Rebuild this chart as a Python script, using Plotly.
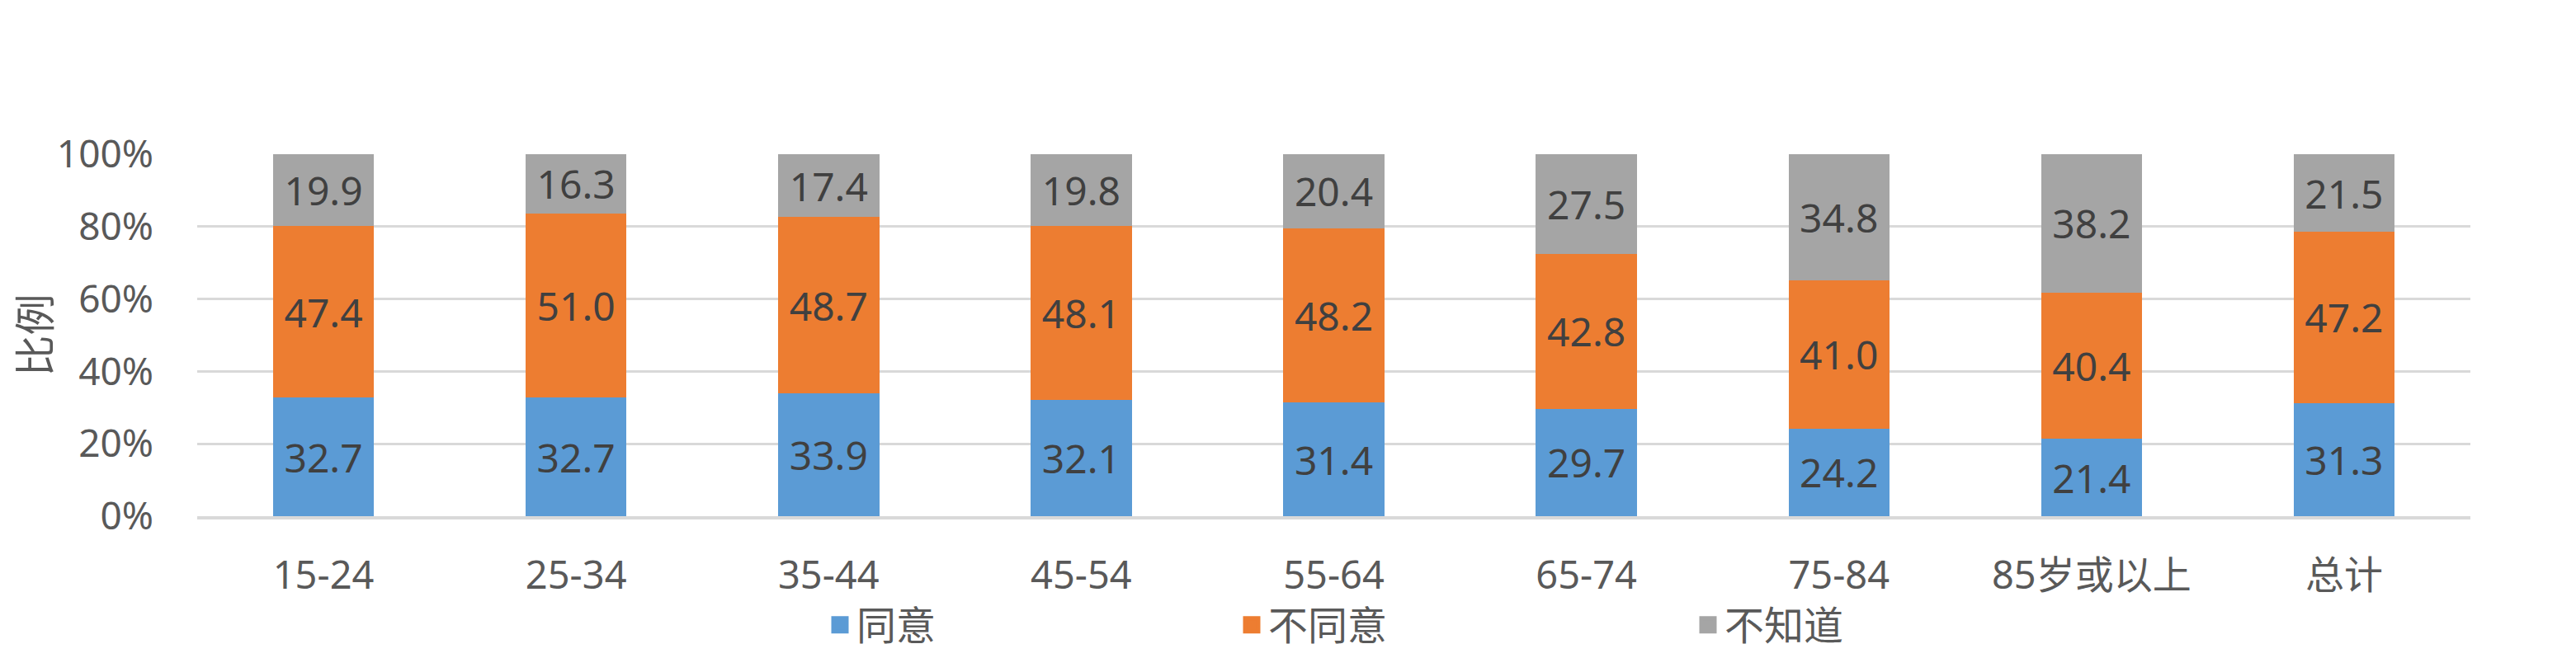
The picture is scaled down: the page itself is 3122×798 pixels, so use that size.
import plotly.graph_objects as go

# age groups plus the overall total
categories = ["15-24", "25-34", "35-44", "45-54", "55-64", "65-74", "75-84", "85岁或以上", "总计"]
agree = [32.7, 32.7, 33.9, 32.1, 31.4, 29.7, 24.2, 21.4, 31.3]
disagree = [47.4, 51.0, 48.7, 48.1, 48.2, 42.8, 41.0, 40.4, 47.2]
dont_know = [19.9, 16.3, 17.4, 19.8, 20.4, 27.5, 34.8, 38.2, 21.5]
series_names = ["同意", "不同意", "不知道"]
y_ticks = [0, 20, 40, 60, 80, 100]
y_tick_labels = ["0%", "20%", "40%", "60%", "80%", "100%"]

colors = ["#5B9BD5", "#ED7D31", "#A5A5A5"]
# page body has an 8px margin, so the figure is a bit smaller than the window
W, H = 3106, 782
FONT = "Noto Sans, Noto Sans CJK SC, sans-serif"

fig = go.Figure()
for name, vals, col in zip(series_names, [agree, disagree, dont_know], colors):
    fig.add_trace(go.Bar(
        x=categories, y=vals, name=name, marker=dict(color=col, line=dict(width=0)),
        texttemplate="%{y:.1f}", textposition="inside", insidetextanchor="middle",
        textfont=dict(family=FONT, size=48, color="#404040"),
        showlegend=False, hoverinfo="x+y+name",
    ))

# legend entries: one legend per series so each can sit where the original has it
legend_keys = ["legend", "legend2", "legend3"]
legend_px = [1011, 1510, 2063]
for name, col, key in zip(series_names, colors, legend_keys):
    fig.add_trace(go.Scatter(
        x=[None], y=[None], mode="markers", name=name, legend=key,
        marker=dict(symbol="square", size=30, color=col, line=dict(width=5, color=col)),
        showlegend=True, hoverinfo="skip",
    ))

legend_layout = {}
for key, px in zip(legend_keys, legend_px):
    legend_layout[key] = dict(
        orientation="h", xref="container", yref="container",
        x=(px - 21) / W, y=1 - 750 / H, xanchor="left", yanchor="middle",
        font=dict(family=FONT, size=48, color="#595959"), bgcolor="rgba(0,0,0,0)",
        itemclick=False,
    )

fig.update_layout(
    width=W, height=H, barmode="stack", bargap=0.6,
    plot_bgcolor="white", paper_bgcolor="white",
    margin=dict(l=231, r=120, t=179, b=164, autoexpand=False),
    font=dict(family=FONT, color="#595959"),
    xaxis=dict(
        showgrid=False, showline=True, linecolor="#D9D9D9", linewidth=4,
        tickfont=dict(size=47, color="#595959"), ticklabelstandoff=28,
    ),
    yaxis=dict(
        range=[0, 100], tickvals=y_ticks, ticktext=y_tick_labels,
        showgrid=True, gridcolor="#D9D9D9", gridwidth=3, zeroline=False,
        tickfont=dict(size=46, color="#595959"), ticklabelstandoff=52,
        title=dict(text="比例", font=dict(size=50, color="#595959"), standoff=12),
    ),
    **legend_layout,
)

fig.write_html("out.html")
